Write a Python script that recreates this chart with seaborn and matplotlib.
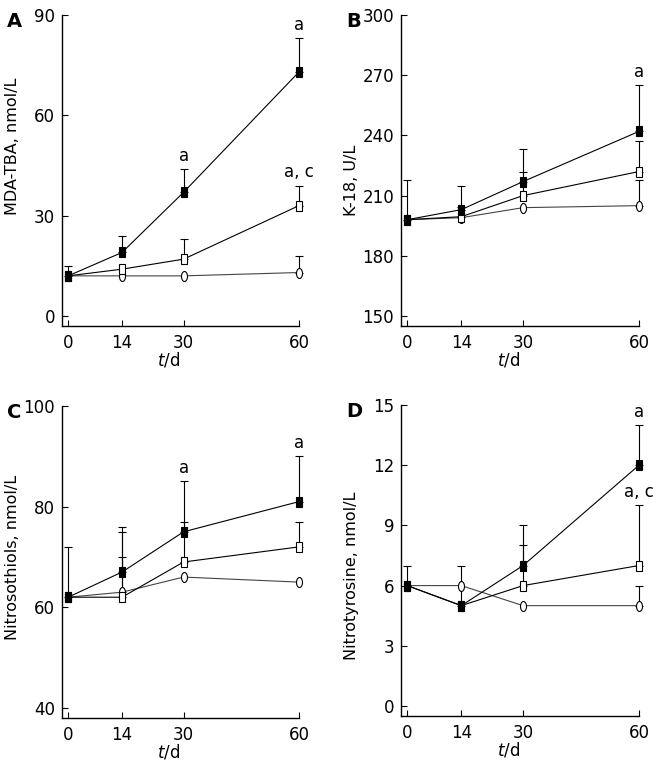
import numpy as np
import seaborn as sns
import matplotlib.pyplot as plt
from matplotlib.markers import MarkerStyle
from matplotlib.transforms import Affine2D

# sampling days
days = [0, 14, 30, 60]

# A: MDA-TBA (nmol/L)
mda_filled = [12, 19, 37, 73]
mda_filled_err = [3, 5, 7, 10]
mda_open = [12, 14, 17, 33]
mda_open_err = [0, 0, 6, 6]
mda_circle = [12, 12, 12, 13]
mda_circle_err = [0, 0, 0, 5]

# B: K-18 (U/L)
k18_filled = [198, 203, 217, 242]
k18_filled_err = [20, 12, 16, 23]
k18_open = [198, 199.5, 210, 222]
k18_open_err = [0, 5, 12, 15]
k18_circle = [198, 199, 204, 205]
k18_circle_err = [0, 0, 0, 13]

# C: Nitrosothiols (nmol/L)
nso_filled = [62, 67, 75, 81]
nso_filled_err = [10, 9, 10, 9]
nso_open = [62, 62, 69, 72]
nso_open_err = [0, 13, 8, 5]
nso_circle = [62, 63, 66, 65]
nso_circle_err = [0, 7, 0, 0]

# D: Nitrotyrosine (nmol/L)
nt_filled = [6, 5, 7, 12]
nt_filled_err = [0, 0, 2, 2]
nt_open = [6, 5, 6, 7]
nt_open_err = [1, 2, 2, 3]
nt_circle = [6, 6, 5, 5]
nt_circle_err = [0, 0, 0, 1]

panels = [
    dict(letter="A", ylabel="MDA-TBA, nmol/L", yticks=[0, 30, 60, 90], ylim=(-3, 90),
         series=[(mda_circle, mda_circle_err, "circle"), (mda_open, mda_open_err, "open"),
                 (mda_filled, mda_filled_err, "filled")],
         notes=[(30, "filled", "a"), (60, "filled", "a"), (60, "open", "a, c")],
         rect=[0.0938, 0.5727, 0.3586, 0.4076], ylab_y=0.577),
    dict(letter="B", ylabel="K-18, U/L", yticks=[150, 180, 210, 240, 270, 300], ylim=(145, 300),
         series=[(k18_circle, k18_circle_err, "circle"), (k18_open, k18_open_err, "open"),
                 (k18_filled, k18_filled_err, "filled")],
         notes=[(60, "filled", "a")],
         rect=[0.6067, 0.5727, 0.3600, 0.4076], ylab_y=0.468),
    dict(letter="C", ylabel="Nitrosothiols, nmol/L", yticks=[40, 60, 80, 100], ylim=(38, 100),
         series=[(nso_circle, nso_circle_err, "circle"), (nso_open, nso_open_err, "open"),
                 (nso_filled, nso_filled_err, "filled")],
         notes=[(30, "filled", "a"), (60, "filled", "a")],
         rect=[0.0938, 0.0590, 0.3586, 0.4089], ylab_y=0.514),
    dict(letter="D", ylabel="Nitrotyrosine, nmol/L", yticks=[0, 3, 6, 9, 12, 15], ylim=(-0.5, 15),
         series=[(nt_circle, nt_circle_err, "circle"), (nt_open, nt_open_err, "open"),
                 (nt_filled, nt_filled_err, "filled")],
         notes=[(60, "filled", "a"), (60, "open", "a, c")],
         rect=[0.6067, 0.0616, 0.3600, 0.4076], ylab_y=0.45),
]

sns.set_style("ticks")
plt.rcParams["font.family"] = ["DejaVu Sans"]
plt.rcParams["mathtext.fontset"] = "dejavusans"
for key in ["text.color", "axes.labelcolor", "xtick.color", "ytick.color", "axes.edgecolor"]:
    plt.rcParams[key] = "black"

narrow = Affine2D().scale(0.6, 1.0)
marker_kw = {
    "circle": dict(marker=MarkerStyle("o", transform=narrow), markerfacecolor="white", color="#444444"),
    "open": dict(marker=MarkerStyle("s", transform=narrow), markerfacecolor="white", color="black"),
    "filled": dict(marker=MarkerStyle("s", transform=narrow), markerfacecolor="black", color="black"),
}

fig = plt.figure(figsize=(6.61, 7.63), dpi=100)

for p in panels:
    ax = fig.add_axes(p["rect"])
    tops = {}
    for vals, errs, kind in p["series"]:
        x = np.array(days)
        y = np.array(vals, dtype=float)
        e = np.array(errs, dtype=float)
        tops[kind] = dict(zip(days, y + e))
        m = e > 0
        ax.errorbar(x[m], y[m], yerr=[np.zeros(m.sum()), e[m]], fmt="none",
                    ecolor="black", elinewidth=0.8, capsize=3, capthick=0.8,
                    zorder=1, clip_on=False)
        sns.lineplot(x=x, y=y, ax=ax, linewidth=0.8, markersize=7.2,
                     markeredgecolor="black", markeredgewidth=0.8, legend=False,
                     zorder=2, clip_on=False, **marker_kw[kind])
    for xd, kind, txt in p["notes"]:
        ax.annotate(txt, xy=(xd, tops[kind][xd]), xytext=(0, 3), textcoords="offset points",
                    ha="center", va="bottom", fontsize=12)

    ax.set_xlim(-1.6, 60)
    ax.set_ylim(*p["ylim"])
    ax.set_xticks(days)
    ax.set_yticks(p["yticks"])
    ax.tick_params(direction="in", length=4.5, width=0.8, labelsize=12, pad=5)
    ax.tick_params(axis="x", pad=6)
    sns.despine(ax=ax)
    for s in ["left", "bottom"]:
        ax.spines[s].set_linewidth(1.0)
    ax.set_ylabel(p["ylabel"], fontsize=11.5)
    ax.yaxis.set_label_coords(-0.177, p["ylab_y"])
    ax.set_xlabel(r"$t$/d", fontsize=12)
    ax.xaxis.set_label_coords(0.45, -0.08)

    x0, y0, w, h = p["rect"]
    fig.text(x0 - 0.083, y0 + h + 0.004, p["letter"], fontsize=14, fontweight="bold",
             ha="left", va="top")

fig.savefig("out.png", dpi=100)
